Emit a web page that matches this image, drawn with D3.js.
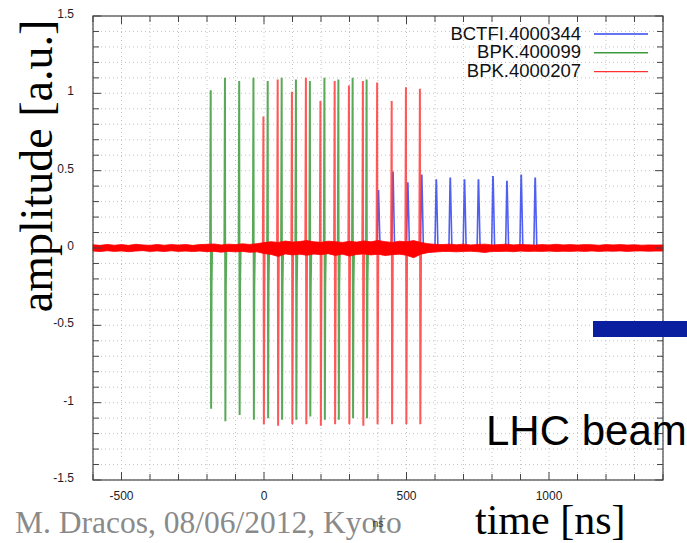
<!DOCTYPE html>
<html>
<head>
<meta charset="utf-8">
<script src="https://cdn.jsdelivr.net/npm/d3@7"></script>
<style>
  html, body { margin: 0; padding: 0; background: #fff; }
  svg { display: block; }
</style>
</head>
<body>
<svg id="chart" width="687" height="543"></svg>
<script>
// spike times (ns) and amplitudes
const greenTimes = [-187, -137, -87, -37, 13, 62, 112, 161, 212, 261, 311, 360]
const greenPeaks = [1.02, 1.10, 1.08, 1.10, 1.08, 1.10, 1.09, 1.08, 1.10, 1.09, 1.10, 1.09]
const greenTroughs = [-1.04, -1.12, -1.08, -1.11, -1.10, -1.11, -1.11, -1.09, -1.11, -1.11, -1.10, -1.10]

const redTimes = [-2, 48, 98, 147, 198, 248, 298, 347, 397, 448, 498, 547]
const redPeaks = [0.85, 1.09, 1.01, 1.10, 0.95, 1.08, 1.05, 1.08, 1.07, 0.95, 1.04, 1.03]
const redTroughs = [-1.14, -1.15, -1.14, -1.14, -1.15, -1.14, -1.14, -1.15, -1.14, -1.14, -1.14, -1.14]

const blueTimes = [401, 452, 504, 553, 604, 653, 703, 752, 803, 852, 902, 951]
const bluePeaks = [0.37, 0.49, 0.42, 0.47, 0.44, 0.45, 0.44, 0.44, 0.46, 0.43, 0.47, 0.45]

// red baseline noise envelope, one value every 25 ns from -600 to 1400 (81 values)
const noiseHi = [
  0.021, 0.017, 0.023, 0.018, 0.022, 0.017, 0.024, 0.020, 0.017, 0.023, 0.018, 0.022, 0.019, 0.023, 0.017, 0.022,
  0.024, 0.026, 0.020, 0.025, 0.022, 0.027, 0.023, 0.028,
  0.035, 0.041, 0.036, 0.045, 0.038, 0.042, 0.048, 0.040, 0.037, 0.044, 0.041, 0.036, 0.043, 0.038, 0.046, 0.040,
  0.049, 0.041, 0.036, 0.044, 0.040, 0.048, 0.036,
  0.028, 0.024, 0.022, 0.025, 0.021, 0.025, 0.020, 0.023, 0.025, 0.020, 0.022, 0.025, 0.020, 0.023, 0.021, 0.019,
  0.022, 0.020, 0.024, 0.020, 0.022, 0.019, 0.022, 0.021, 0.018, 0.022, 0.020, 0.022, 0.019, 0.021, 0.018, 0.020, 0.019, 0.020
]
const noiseLo = [
  -0.020, -0.023, -0.018, -0.022, -0.019, -0.024, -0.020, -0.017, -0.022, -0.019, -0.023, -0.018, -0.022, -0.020, -0.023, -0.020,
  -0.024, -0.022, -0.027, -0.022, -0.025, -0.022, -0.028, -0.025,
  -0.036, -0.042, -0.055, -0.038, -0.045, -0.040, -0.047, -0.039, -0.043, -0.037, -0.048, -0.040, -0.052, -0.042, -0.038, -0.045,
  -0.040, -0.049, -0.043, -0.040, -0.047, -0.063, -0.040,
  -0.030, -0.026, -0.023, -0.022, -0.025, -0.022, -0.021, -0.024, -0.029, -0.022, -0.023, -0.021, -0.024, -0.020, -0.022, -0.021,
  -0.022, -0.020, -0.023, -0.021, -0.022, -0.020, -0.022, -0.019, -0.022, -0.020, -0.021, -0.019, -0.022, -0.020, -0.019, -0.021, -0.020, -0.020
]

const legendNames = ['BCTFI.4000344', 'BPK.400099', 'BPK.4000207']
const legendColors = ['#3344ee', '#3c9a3c', '#ff3333']

const xTickLabels = [-500, 0, 500, 1000]
const yTickLabels = [-1.5, -1, -0.5, 0, 0.5, 1, 1.5]

const svg = d3.select('#chart')
const plotLeft = 93
const plotRight = 663
const plotTop = 16
const plotBottom = 480

const x = d3.scaleLinear().domain([-600, 1400]).range([plotLeft, plotRight])
const y = d3.scaleLinear().domain([-1.5, 1.5]).range([plotBottom, plotTop])

const minorX = d3.range(-600, 1401, 100)
const minorY = d3.range(-15, 16, 1).map(d => d / 10)

// dotted grid
const grid = svg.append('g')
grid.selectAll('.gx')
  .data(minorX)
  .enter()
  .append('line')
  .attr('x1', d => x(d)).attr('x2', d => x(d))
  .attr('y1', plotTop).attr('y2', plotBottom)
  .attr('stroke', '#c4c4c4')
  .attr('stroke-dasharray', '1,3')
grid.selectAll('.gy')
  .data(minorY)
  .enter()
  .append('line')
  .attr('x1', plotLeft).attr('x2', plotRight)
  .attr('y1', d => y(d)).attr('y2', d => y(d))
  .attr('stroke', '#c4c4c4')
  .attr('stroke-dasharray', '1,3')

const plot = svg.append('g')
const line = d3.line().x(d => x(d[0])).y(d => y(d[1]))

// blue pulses
blueTimes.forEach((t, i) => {
  plot.append('path')
    .attr('d', line([[t - 4, 0.02], [t, bluePeaks[i]], [t + 1, bluePeaks[i]], [t + 6, 0.02]]))
    .attr('fill', 'none')
    .attr('stroke', '#3344ee')
    .attr('stroke-width', 1.6)
    .attr('opacity', 0.85)
})

// green pulses
greenTimes.forEach((t, i) => {
  plot.append('path')
    .attr('d', line([[t - 2, 0], [t, greenPeaks[i]], [t + 1.5, greenTroughs[i]], [t + 3, -0.25], [t + 5, 0]]))
    .attr('fill', 'none')
    .attr('stroke', '#3c9a3c')
    .attr('stroke-width', 2)
    .attr('opacity', 0.85)
})

// red pulses
redTimes.forEach((t, i) => {
  plot.append('path')
    .attr('d', line([[t - 2, 0], [t, redPeaks[i]], [t + 1.5, redTroughs[i]], [t + 4, 0]]))
    .attr('fill', 'none')
    .attr('stroke', '#ff3b3b')
    .attr('stroke-width', 2)
    .attr('opacity', 0.85)
})

// red baseline noise
const noiseTimes = d3.range(-600, 1401, 25)
const band = noiseTimes.map((t, i) => ({ t, hi: noiseHi[i], lo: noiseLo[i] }))
  .filter(d => d.hi !== undefined && d.lo !== undefined)
plot.append('path')
  .attr('d', d3.area().x(d => x(d.t)).y0(d => y(d.lo)).y1(d => y(d.hi))(band))
  .attr('fill', '#ff0000')
  .attr('stroke', '#ff0000')
  .attr('stroke-width', 0.8)

// frame
svg.append('rect')
  .attr('x', plotLeft).attr('y', plotTop)
  .attr('width', plotRight - plotLeft).attr('height', plotBottom - plotTop)
  .attr('fill', 'none')
  .attr('stroke', '#444')
  .attr('stroke-width', 1.2)

// ticks on all four sides, pointing inwards
const ticks = svg.append('g').attr('stroke', '#444').attr('stroke-width', 1)
minorX.forEach(d => {
  const len = d % 500 === 0 ? 8 : 6
  ticks.append('line').attr('x1', x(d)).attr('x2', x(d)).attr('y1', plotBottom).attr('y2', plotBottom - len)
  ticks.append('line').attr('x1', x(d)).attr('x2', x(d)).attr('y1', plotTop).attr('y2', plotTop + len)
})
minorY.forEach(d => {
  const len = Math.abs(Math.round(d * 10)) % 5 === 0 ? 8 : 6
  ticks.append('line').attr('x1', plotLeft).attr('x2', plotLeft + len).attr('y1', y(d)).attr('y2', y(d))
  ticks.append('line').attr('x1', plotRight).attr('x2', plotRight - len).attr('y1', y(d)).attr('y2', y(d))
})

const labelFont = '"Liberation Sans", Arial, sans-serif'
svg.append('g')
  .selectAll('text')
  .data(xTickLabels)
  .enter()
  .append('text')
  .attr('x', d => x(d))
  .attr('y', 500)
  .attr('text-anchor', 'middle')
  .attr('font-family', labelFont)
  .attr('font-size', 12)
  .attr('fill', '#1c1c28')
  .text(d => d)

svg.append('g')
  .selectAll('text')
  .data(yTickLabels)
  .enter()
  .append('text')
  .attr('x', 74)
  .attr('y', d => y(d) + 2)
  .attr('text-anchor', 'end')
  .attr('font-family', labelFont)
  .attr('font-size', 12)
  .attr('fill', '#1c1c28')
  .text(d => d)

// legend
const legend = svg.append('g')
legendNames.forEach((name, i) => {
  legend.append('text')
    .attr('x', 581)
    .attr('y', 40 + i * 18.4)
    .attr('text-anchor', 'end')
    .attr('font-family', labelFont)
    .attr('font-size', 18.5)
    .attr('fill', '#111')
    .text(name)
  legend.append('line')
    .attr('x1', 594).attr('x2', 648)
    .attr('y1', 34 + i * 18.8).attr('y2', 34 + i * 18.8)
    .attr('stroke', legendColors[i])
    .attr('stroke-width', 1.4)
})

// axis titles
const serif = '"Liberation Serif", "Times New Roman", serif'
svg.append('text')
  .attr('transform', 'translate(52,166) rotate(-90)')
  .attr('text-anchor', 'middle')
  .attr('font-family', serif)
  .attr('font-size', 46)
  .attr('fill', '#000')
  .text('amplitude [a.u.]')

svg.append('text')
  .attr('x', 475)
  .attr('y', 534)
  .attr('font-family', serif)
  .attr('font-size', 42)
  .attr('fill', '#000')
  .text('time [ns]')

svg.append('text')
  .attr('x', 15)
  .attr('y', 533)
  .attr('font-family', serif)
  .attr('font-size', 31.5)
  .attr('fill', '#8a8a8a')
  .text('M. Dracos, 08/06/2012, Kyoto')

svg.append('text')
  .attr('x', 378)
  .attr('y', 527)
  .attr('text-anchor', 'middle')
  .attr('font-family', labelFont)
  .attr('font-size', 10.5)
  .attr('fill', '#333')
  .text('ns')

// beam marker
svg.append('rect')
  .attr('x', 593).attr('y', 321)
  .attr('width', 100).attr('height', 16)
  .attr('fill', '#0a1ea0')

svg.append('text')
  .attr('x', 486)
  .attr('y', 445)
  .attr('font-family', labelFont)
  .attr('font-size', 42)
  .attr('fill', '#000')
  .text('LHC beam')
</script>
</body>
</html>
